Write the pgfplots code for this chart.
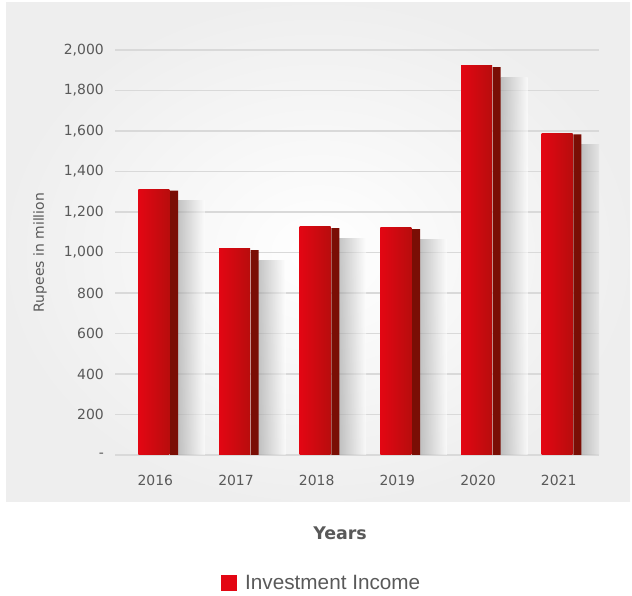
\documentclass[border=0pt]{standalone}
\usepackage{fontspec}
\setmainfont{DejaVu Sans}
\newfontfamily\arial{Liberation Sans}
\usepackage{pgfplots}
\pgfplotsset{compat=1.18}
\definecolor{txt}{HTML}{595959}
\definecolor{redL}{HTML}{E30613}
\definecolor{redR}{HTML}{B80D0D}
\definecolor{sidec}{HTML}{7A0E05}
\definecolor{gridc}{HTML}{D9D9D9}
\pgfplotsset{
  shadowbar/.style={ybar, bar width=27bp, bar shift=36bp, draw=none, left color=gray!75, right color=white, fill opacity=0.6, forget plot},
  frontbar/.style={ybar, bar width=31bp, bar shift=-1.5bp, draw=none, left color=redL, middle color=redL, right color=redR, forget plot},
}
\begin{document}
\begin{tikzpicture}[x=1bp,y=1bp]
\useasboundingbox (0,0) rectangle (632,596);
\shade[inner color=white, outer color=gray!13] (6,94) rectangle (630,593);
\begin{axis}[
  at={(115bp,141bp)}, anchor=south west,
  scale only axis, width=484bp, height=405bp,
  xmin=-0.5, xmax=5.5, ymin=0, ymax=2000,
  axis line style={draw=none},
  tick style={draw=none},
  ymajorgrids, xmajorgrids=false,
  grid style={gridc, line width=1.3bp},
  xtick={0,1,2,3,4,5},
  xticklabels={2016,2017,2018,2019,2020,2021},
  ytick={0,200,400,600,800,1000,1200,1400,1600,1800,2000},
  yticklabels={-,200,400,600,800,{1,000},{1,200},{1,400},{1,600},{1,800},{2,000}},
  tick label style={font=\fontsize{14}{16}\selectfont, text=txt, inner sep=0pt},
  yticklabel style={xshift=-11bp},
  xticklabel style={yshift=-20bp},
  xlabel={Years},
  xlabel style={at={(axis description cs:0.465,-0.1926)}, anchor=center, font=\bfseries\fontsize{17.5}{20}\selectfont, text=txt},
  ylabel={Rupees in million},
  ylabel style={at={(axis description cs:-0.155,0.5)}, anchor=center, font=\fontsize{14}{16}\selectfont, text=txt},
  legend style={at={(axis description cs:0.4267,-0.316)}, anchor=center, draw=none, fill=none, font=\arial\fontsize{20.8}{24}\selectfont, text=txt},
  legend image code/.code={\fill[redL] (0bp,-7.5bp) rectangle (15bp,7.5bp); \path (22bp,0bp);},
]
% shadows
\addplot[shadowbar] coordinates {(0,1255)};
\addplot[shadowbar] coordinates {(1,962)};
\addplot[shadowbar] coordinates {(2,1070)};
\addplot[shadowbar] coordinates {(3,1065)};
\addplot[shadowbar] coordinates {(4,1865)};
\addplot[shadowbar] coordinates {(5,1533)};
% sides
\addplot[ybar, bar width=8bp, bar shift=18.7bp, draw=none, fill=sidec, forget plot]
  coordinates {(0,1305) (1,1012) (2,1120) (3,1115) (4,1915) (5,1583)};
% fronts
\addplot[frontbar] coordinates {(0,1312)};
\addplot[frontbar] coordinates {(1,1019)};
\addplot[frontbar] coordinates {(2,1127)};
\addplot[frontbar] coordinates {(3,1122)};
\addplot[frontbar] coordinates {(4,1922)};
\addplot[frontbar] coordinates {(5,1590)};
\addlegendimage{fill=redL}
\addlegendentry{Investment Income}
\end{axis}
\end{tikzpicture}
\end{document}
